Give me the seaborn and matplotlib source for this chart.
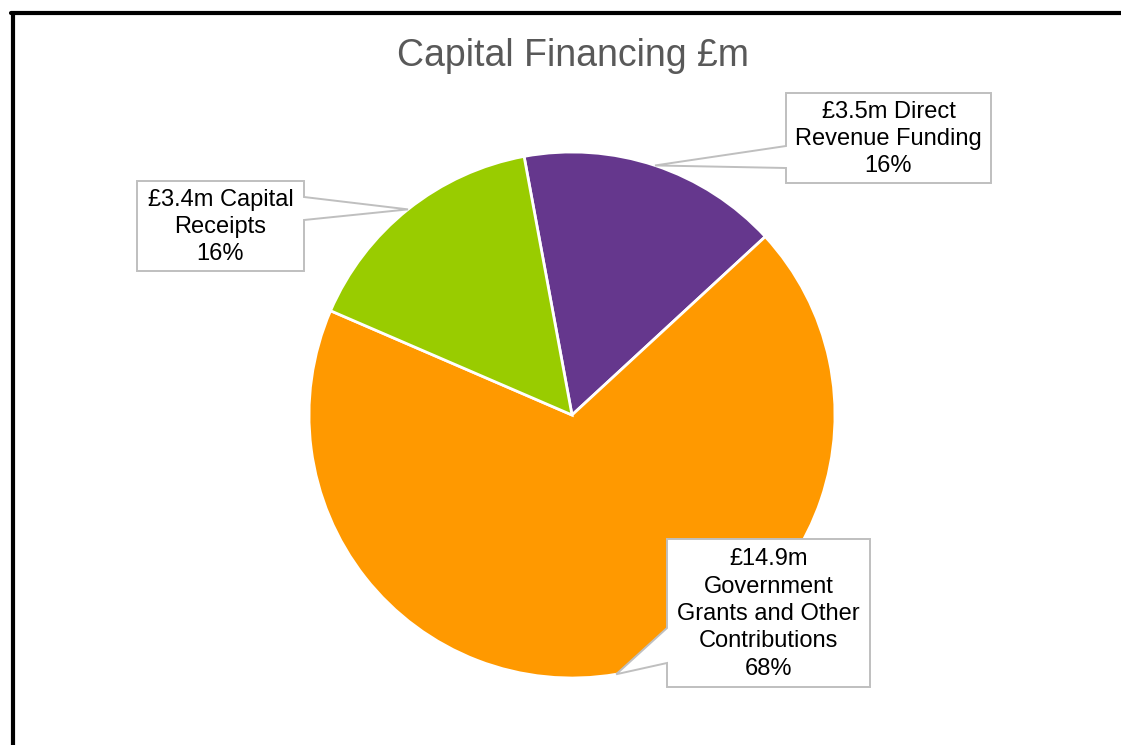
import numpy as np
import matplotlib
matplotlib.use("Agg")
import matplotlib.pyplot as plt
from matplotlib.patches import Polygon
from matplotlib.lines import Line2D
import seaborn as sns

# ── Data ──────────────────────────────────────────────────────────────────────
TITLE = "Capital Financing £m"
CATEGORIES = ["Direct Revenue Funding",
              "Government Grants and Other Contributions",
              "Capital Receipts"]
# how each name is broken inside its callout (after the £ amount)
LABEL_TEXT = [" Direct\nRevenue Funding",
              "\nGovernment\nGrants and Other\nContributions",
              " Capital\nReceipts"]
VALUES = [3.5, 14.9, 3.4]
COLORS = ["#65378D", "#FF9900", "#99CC00"]

# ── Layout (pixels, origin top-left) ──────────────────────────────────────────
W, H = 1121, 745
PIE_CX, PIE_CY, PIE_R = 572, 415, 263
# box: left, top, right, bottom ; pointer side + base y range
BOXES = [
    dict(box=(786, 93, 991, 183), side="left", base=(146, 168)),
    dict(box=(667, 539, 870, 687), side="left", base=(628, 663)),
    dict(box=(137, 181, 304, 271), side="right", base=(197, 220)),
]

sns.set_theme(style="white")
plt.rcParams["font.family"] = ["Liberation Sans", "DejaVu Sans"]

fig = plt.figure(figsize=(W / 100, H / 100), dpi=100)
fig.patch.set_facecolor("white")


def fx(x):
    return x / W


def fy(y):
    return 1 - y / H


ax = fig.add_axes([fx(PIE_CX - PIE_R), fy(PIE_CY + PIE_R),
                   2 * PIE_R / W, 2 * PIE_R / H])
wedges, _ = ax.pie(VALUES, colors=COLORS, startangle=100.5, counterclock=False,
                   radius=1, wedgeprops=dict(edgecolor="white", linewidth=2))
ax.set_xlim(-1, 1)
ax.set_ylim(-1, 1)
ax.axis("off")

fig.text(fx(573), fy(56), TITLE, ha="center", va="center",
         fontsize=27, color="#595959")

total = sum(VALUES)
to_fig = fig.transFigure.inverted()
for w, v, lab, spec in zip(wedges, VALUES, LABEL_TEXT, BOXES):
    mid = np.deg2rad((w.theta1 + w.theta2) / 2)
    tip = to_fig.transform(ax.transData.transform((np.cos(mid), np.sin(mid))))
    l, t, r, b = spec["box"]
    y0, y1 = spec["base"]
    if spec["side"] == "left":
        pts = [(fx(l), fy(t)), (fx(r), fy(t)), (fx(r), fy(b)), (fx(l), fy(b)),
               (fx(l), fy(y1)), tuple(tip), (fx(l), fy(y0))]
    else:
        pts = [(fx(l), fy(t)), (fx(r), fy(t)), (fx(r), fy(y0)), tuple(tip),
               (fx(r), fy(y1)), (fx(r), fy(b)), (fx(l), fy(b))]
    fig.add_artist(Polygon(pts, closed=True, facecolor="white",
                           edgecolor="#BFBFBF", linewidth=1.4,
                           transform=fig.transFigure, zorder=3))
    pct = v / total * 100
    fig.text(fx((l + r) / 2), fy((t + b) / 2 + 1), f"£{v:.1f}m{lab}\n{pct:.0f}%",
             ha="center", va="center", multialignment="center",
             fontsize=17, linespacing=1.32, color="black", zorder=4)

# black frame (left and top edges)
fig.add_artist(Line2D([fx(12.5), fx(12.5)], [fy(745), fy(13)],
                      color="black", linewidth=3, transform=fig.transFigure))
fig.add_artist(Line2D([fx(11), fx(1121)], [fy(13), fy(13)],
                      color="black", linewidth=3, transform=fig.transFigure))

fig.savefig("out.png", dpi=100, facecolor="white")
